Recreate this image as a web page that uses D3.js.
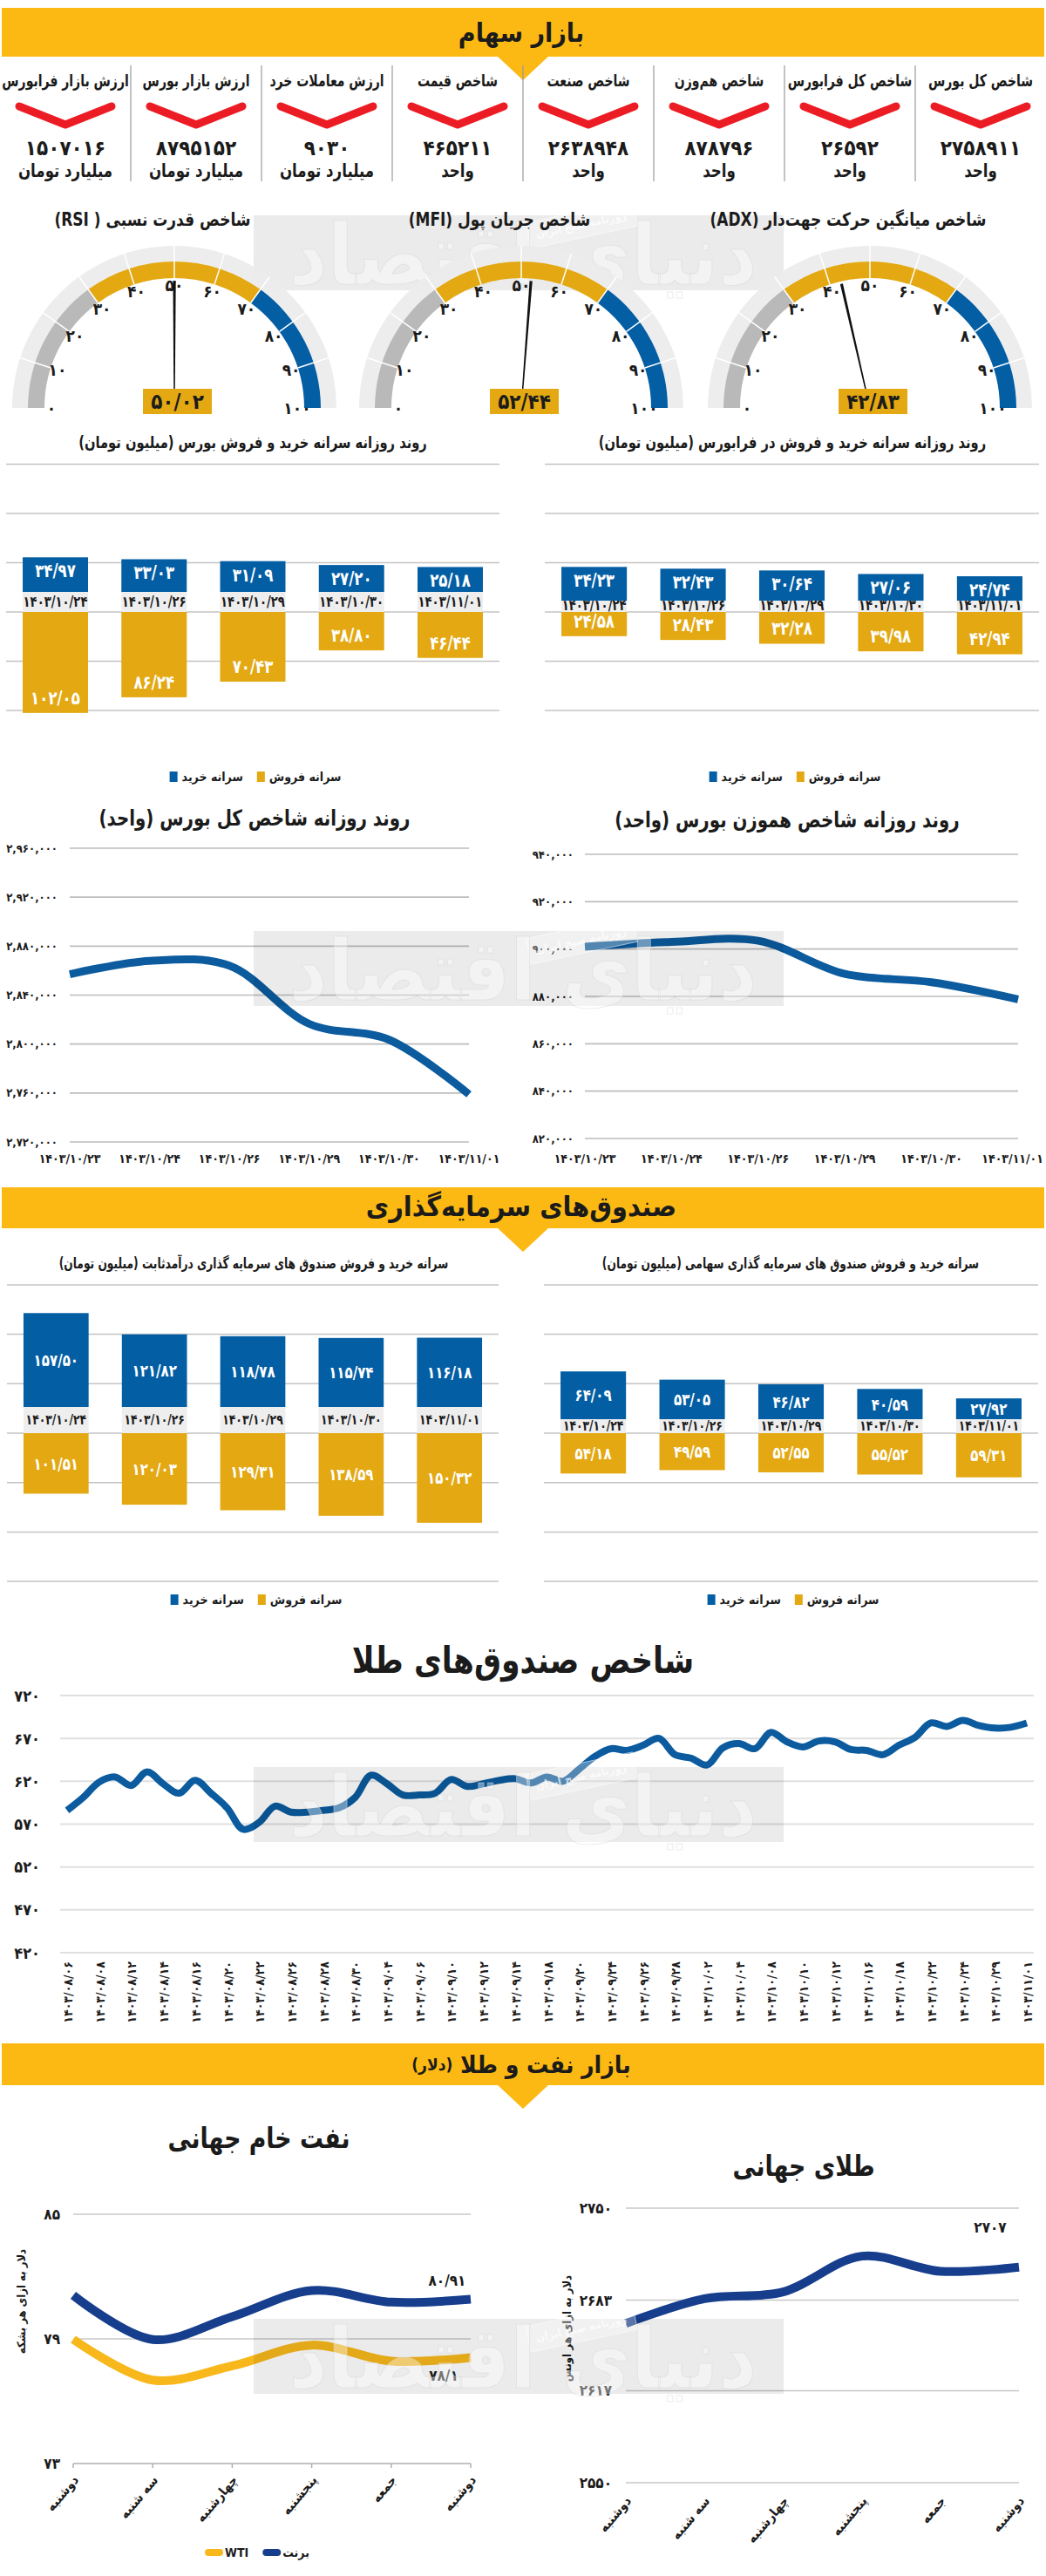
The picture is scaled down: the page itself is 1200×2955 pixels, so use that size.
<!DOCTYPE html>
<html lang="fa">
<head>
<meta charset="utf-8">
<script src="https://cdn.jsdelivr.net/npm/d3@7/dist/d3.min.js"></script>
<style>
html,body{margin:0;padding:0;background:#fff;}
svg{display:block;}
text{font-family:"DejaVu Sans Condensed","DejaVu Sans",sans-serif;}
</style>
</head>
<body>
<svg id="chart" width="1200" height="2955" xmlns="http://www.w3.org/2000/svg"></svg>
<script>
// ================= DATA =================
const indicatorNames = ["شاخص کل بورس","شاخص کل فرابورس","شاخص هم‌وزن","شاخص صنعت","شاخص قیمت","ارزش معاملات خرد","ارزش بازار بورس","ارزش بازار فرابورس"];
const indicatorValues = [2758911, 26592, 878796, 2638948, 465211, 9030, 8795152, 1507016];
const indicatorUnits = ["واحد","واحد","واحد","واحد","واحد","میلیارد تومان","میلیارد تومان","میلیارد تومان"];

const gaugeNames = ["شاخص قدرت نسبی ( RSI)","شاخص جریان پول (MFI)","شاخص میانگین حرکت جهت‌دار (ADX)"];
const gaugeValues = [50.02, 52.44, 42.83];
const gaugeTicks = [0,10,20,30,40,50,60,70,80,90,100];
const gaugeZoneBounds = [0, 30, 70, 100];

const barDates = ["1403/10/24","1403/10/26","1403/10/29","1403/10/30","1403/11/01"];
const bourseBuy  = [34.97, 33.03, 31.09, 27.20, 25.18];
const bourseSell = [102.05, 86.24, 70.43, 38.80, 46.44];
const faraBuy    = [34.23, 32.43, 30.64, 27.06, 24.74];
const faraSell   = [24.58, 28.43, 32.28, 39.98, 42.94];

const lineDates = ["1403/10/23","1403/10/24","1403/10/26","1403/10/29","1403/10/30","1403/11/01"];
const totalIndex = [2857000, 2868000, 2864000, 2816500, 2803500, 2758911];
const totalTicks = [2720000, 2760000, 2800000, 2840000, 2880000, 2920000, 2960000];
const equalIndex = [901000, 903000, 903500, 889500, 886000, 878796];
const equalTicks = [820000, 840000, 860000, 880000, 900000, 920000, 940000];

const fixedBuy   = [157.50, 121.82, 118.78, 115.74, 116.18];
const fixedSell  = [101.51, 120.03, 129.31, 138.59, 150.32];
const equityBuy  = [64.09, 53.05, 46.82, 40.59, 27.92];
const equitySell = [54.18, 49.59, 52.55, 55.52, 59.31];

const goldFundValues = [586,601,619,625,615,631,617,606,621,606,589,564,572,591,584,584,586,589,601,627,617,604,604,606,622,614,617,621,623,618,625,620,634,649,658,656,662,670,651,647,639,659,664,658,677,666,660,667,666,657,656,651,662,671,688,684,691,685,682,683,688];
const goldFundTickLabels = ["1403/08/06","1403/08/08","1403/08/12","1403/08/14","1403/08/16","1403/08/20","1403/08/22","1403/08/26","1403/08/28","1403/08/30","1403/09/04","1403/09/06","1403/09/10","1403/09/12","1403/09/14","1403/09/18","1403/09/20","1403/09/24","1403/09/26","1403/09/28","1403/10/02","1403/10/04","1403/10/08","1403/10/10","1403/10/12","1403/10/16","1403/10/18","1403/10/22","1403/10/24","1403/10/29","1403/11/01"];
const goldFundTicks = [420, 470, 520, 570, 620, 670, 720];

const weekDays = ["دوشنبه","سه شنبه","چهارشنبه","پنجشنبه","جمعه","دوشنبه"];
const brent = [81.10, 78.97, 80.07, 81.33, 80.77, 80.91];
const wti   = [78.98, 77.02, 77.70, 78.70, 77.93, 78.10];
const oilTicks = [73, 79, 85];
const goldOunce = [2666, 2684, 2689, 2715, 2704, 2707];
const goldTicks = [2550, 2617, 2683, 2750];

// ================= HELPERS =================
const C = {yellow:"#FDB913", blue:"#035EA4", gold:"#E3A812", red:"#EC1C24", line:"#0B5B9E",
  navy:"#163E8D", wti:"#F8B81B", grid:"#C4C4C4", band:"#EEEEEE", light:"#EBEBEB", gray:"#B9B9B9", ink:"#1b1b1b"};
const fa = s => String(s).replace(/[0-9]/g, d => "۰۱۲۳۴۵۶۷۸۹"[+d]).replace(/\./g, "/");
const svg = d3.select("#chart");

function T(parent, x, y, s, size, o = {}) {
  const a = o.a || "middle";
  const t = parent.append("text").attr("x", x).attr("y", y)
    .attr("font-size", size).attr("font-weight", o.w || "bold")
    .attr("fill", o.fill || C.ink).attr("text-anchor", a)
    .attr("dominant-baseline", "central")
    .attr("direction", o.dir || (a === "middle" ? "rtl" : "ltr"));
  if (o.rot !== undefined) t.attr("transform", `rotate(${o.rot},${x},${y})`);
  else if (o.sx) t.attr("transform", `translate(${x},0) scale(${o.sx},1) translate(${-x},0)`);
  t.text(s);
  return t;
}
function hline(g, x0, x1, y, color, w) {
  g.append("line").attr("x1", x0).attr("x2", x1).attr("y1", y).attr("y2", y)
    .attr("stroke", color).attr("stroke-width", w);
}
function header(y0, y1) {
  svg.append("rect").attr("x", 2).attr("y", y0).attr("width", 1196).attr("height", y1 - y0).attr("fill", C.yellow);
  svg.append("path").attr("d", `M570,${y1 - 1}L630,${y1 - 1}L600,${y1 + 27}Z`).attr("fill", C.yellow);
}
function legend(cx, y, items) {
  const g = svg.append("g");
  let x = 0;
  items.forEach(it => {
    if (it.line) {
      g.append("line").attr("x1", x + 4).attr("x2", x + 17).attr("y1", y).attr("y2", y)
        .attr("stroke", it.color).attr("stroke-width", 8).attr("stroke-linecap", "round");
      x += 23;
    } else {
      g.append("rect").attr("x", x).attr("y", y - 6).attr("width", 9).attr("height", 12).attr("fill", it.color);
      x += 14;
    }
    const t = T(g, x, y, it.label, 14, {a: "start"});
    x += t.node().getComputedTextLength() + 16;
  });
  g.attr("transform", `translate(${cx - (x - 16) / 2},0)`);
}
function watermark(y) {
  const g = svg.append("g");
  g.append("rect").attr("x", 291).attr("y", y).attr("width", 608).attr("height", 86)
    .attr("fill", "#000").attr("fill-opacity", 0.08);
  g.append("g").attr("transform", `rotate(-12,665,${y + 12})`).call(s => {
    s.append("rect").attr("x", 605).attr("y", y - 4).attr("width", 125).attr("height", 30)
      .attr("fill", "#fff").attr("fill-opacity", 0.3).attr("stroke", "#fff").attr("stroke-opacity", 0.5);
    T(s, 667, y + 11, "روزنامه صبح ایران", 13, {fill: "#fff"}).attr("fill-opacity", 0.7);
  });
  T(g, 600, y + 46, "دنیای اقتصاد", 96, {fill: "#fff"})
    .attr("fill-opacity", 0.4).attr("stroke", "#d4d4d4").attr("stroke-width", 1).attr("stroke-opacity", 0.45);
}

// ================= SECTION 1 : HEADER + INDICATORS =================
header(9, 65);
T(svg, 598, 37, "بازار سهام", 30);

indicatorNames.forEach((name, i) => {
  const cx = 1200 - 150 * (i + 0.5);
  T(svg, cx, 92, name, 19, {sx: 0.82});
  svg.append("path").attr("d", `M${cx - 53},122L${cx},143L${cx + 53},122`)
    .attr("fill", "none").attr("stroke", C.red).attr("stroke-width", 9)
    .attr("stroke-linecap", "round").attr("stroke-linejoin", "round");
  T(svg, cx, 170, fa(indicatorValues[i]), 24, {dir: "ltr"});
  T(svg, cx, 196, indicatorUnits[i], 21, {sx: 0.88});
});
d3.range(1, 8).forEach(k => svg.append("line").attr("x1", 150 * k).attr("x2", 150 * k)
  .attr("y1", 75).attr("y2", 208).attr("stroke", "#9a9a9a").attr("stroke-width", 1.2));

// ================= GAUGES =================
const gaugeCx = [200, 598, 998], gaugeCy = 468;
const ang = d3.scaleLinear().domain([0, 100]).range([-Math.PI / 2, Math.PI / 2]);
const zoneColors = [C.gray, C.gold, C.blue];
watermark(247);
gaugeNames.forEach((name, i) => {
  const cx = gaugeCx[i];
  T(svg, cx - 25, 252, name, 21, {sx: 0.9});
  const g = svg.append("g").attr("transform", `translate(${cx},${gaugeCy})`);
  g.append("path").attr("d", d3.arc()({innerRadius: 168, outerRadius: 186, startAngle: ang(0), endAngle: ang(100)}))
    .attr("fill", C.light).attr("fill-opacity", 0.92);
  d3.pairs(gaugeZoneBounds).forEach((z, j) => g.append("path")
    .attr("d", d3.arc()({innerRadius: 149, outerRadius: 168, startAngle: ang(z[0]), endAngle: ang(z[1])}))
    .attr("fill", zoneColors[j]));
  gaugeTicks.forEach(v => {
    const a = ang(v), s = Math.sin(a), c = Math.cos(a);
    if (v > 0 && v < 100) g.append("line").attr("x1", 149 * s).attr("y1", -149 * c)
      .attr("x2", 186 * s).attr("y2", -186 * c).attr("stroke", "#fff").attr("stroke-width", 1.5);
    T(g, 141 * s, -141 * c, fa(v), 19, {dir: "ltr"});
  });
  const a = ang(gaugeValues[i]), s = Math.sin(a), c = Math.cos(a);
  const px = Math.cos(a), py = Math.sin(a);
  const tip = 146;
  g.append("path").attr("d",
    `M${0.6 * px},${0.6 * py}L${tip * s + 1.6 * px},${-tip * c + 1.6 * py}L${tip * s - 1.6 * px},${-tip * c - 1.6 * py}L${-0.6 * px},${-0.6 * py}Z`)
    .attr("fill", "#111");
  g.append("rect").attr("x", -36).attr("y", -22).attr("width", 79).attr("height", 29).attr("fill", C.gold);
  T(g, 3.5, -7.5, fa(gaugeValues[i].toFixed(2)), 24, {dir: "ltr"});
});

// ================= DIVERGING BAR CHARTS =================
function divBar(o) {
  const g = svg.append("g");
  T(g, o.titleX, o.titleY, o.title, o.titleSize, {sx: o.titleSx});
  o.grid.forEach(y => hline(g, o.x0, o.x1, y, C.grid, 1.5));
  const x = d3.scaleBand().domain(o.dates).range([o.x0, o.x1]).paddingInner(0.338).paddingOuter(0.168);
  const h = d3.scaleLinear().domain([0, 100]).range([0, 100 * o.k]);
  o.dates.forEach((d, i) => {
    const bx = x(d), bw = x.bandwidth(), cx = bx + bw / 2;
    g.append("rect").attr("x", bx).attr("y", o.blueBase).attr("width", bw).attr("height", o.goldTop - o.blueBase).attr("fill", C.band);
    T(g, cx, (o.blueBase + o.goldTop) / 2 + o.dateDy, fa(d), o.dateSize, {dir: "ltr", sx: 0.86});
    const hb = h(o.buy[i]), hs = h(o.sell[i]);
    g.append("rect").attr("x", bx).attr("y", o.blueBase - hb).attr("width", bw).attr("height", hb).attr("fill", C.blue);
    g.append("rect").attr("x", bx).attr("y", o.goldTop).attr("width", bw).attr("height", hs).attr("fill", C.gold);
    const yb = o.center ? o.blueBase - hb / 2 : o.blueBase - hb + 16;
    const ys = o.center ? o.goldTop + hs / 2 : o.goldTop + hs - 17;
    T(g, cx, yb, fa(o.buy[i].toFixed(2)), o.valSize, {fill: "#fff", dir: "ltr", sx: 0.88});
    T(g, cx, ys, fa(o.sell[i].toFixed(2)), o.valSize, {fill: "#fff", dir: "ltr", sx: 0.88});
  });
}
const grid1 = d3.range(-3, 3).map(m => 702 + m * 56.5);
divBar({title: "روند روزانه سرانه خرید و فروش بورس (میلیون تومان)", titleX: 290, titleY: 508, titleSize: 19, titleSx: 0.86,
  x0: 7, x1: 573, grid: grid1, dates: barDates, buy: bourseBuy, sell: bourseSell,
  k: 1.135, blueBase: 679, goldTop: 702, dateDy: 0, dateSize: 17, valSize: 21, center: false});
divBar({title: "روند روزانه سرانه خرید و فروش در فرابورس (میلیون تومان)", titleX: 909, titleY: 508, titleSize: 19, titleSx: 0.86,
  x0: 625, x1: 1192, grid: grid1, dates: barDates, buy: faraBuy, sell: faraSell,
  k: 1.13, blueBase: 689, goldTop: 702, dateDy: -1, dateSize: 17, valSize: 21, center: false});
legend(293, 891, [{label: "سرانه خرید", color: C.blue}, {label: "سرانه فروش", color: C.gold}]);
legend(912, 891, [{label: "سرانه خرید", color: C.blue}, {label: "سرانه فروش", color: C.gold}]);

// ================= INDEX LINE CHARTS =================
function lineChart(o) {
  const g = svg.append("g");
  T(g, o.titleX, o.titleY, o.title, 25, {sx: 0.88});
  const x = d3.scalePoint().domain(o.dates).range([o.x0, o.x1]);
  const y = d3.scaleLinear().domain(d3.extent(o.ticks)).range([o.yBot, o.yTop]);
  o.ticks.forEach(t => {
    hline(g, o.x0, o.x1, y(t), "#BDBDBD", 1.6);
    T(g, o.labelX, y(t), fa(d3.format(",")(t)), 13, {a: "end"});
  });
  o.dates.forEach(d => {
    const t = T(g, x(d), o.xLabelY, fa(d), 14, {dir: "ltr"});
    const w = t.node().getComputedTextLength();
    if (x(d) + w / 2 > 1197) t.attr("x", 1197 - w / 2);
  });
  g.append("path").datum(o.values)
    .attr("d", d3.line().x((d, i) => x(o.dates[i])).y(d => y(d)).curve(d3.curveCatmullRom))
    .attr("fill", "none").attr("stroke", C.line).attr("stroke-width", 9);
}
lineChart({title: "روند روزانه شاخص کل بورس (واحد)", titleX: 292, titleY: 939,
  x0: 80, x1: 538, yTop: 973, yBot: 1310, ticks: totalTicks, labelX: 66, xLabelY: 1329,
  dates: lineDates, values: totalIndex});
lineChart({title: "روند روزانه شاخص هموزن بورس (واحد)", titleX: 903, titleY: 941,
  x0: 671, x1: 1168, yTop: 980, yBot: 1306, ticks: equalTicks, labelX: 658, xLabelY: 1329,
  dates: lineDates, values: equalIndex});
watermark(1068);

// ================= FUNDS SECTION =================
header(1362, 1409);
T(svg, 598, 1384, "صندوق‌های سرمایه‌گذاری", 32);
const grid2 = d3.range(-3, 4).map(m => 1644 + m * 56.7);
divBar({title: "سرانه خرید و فروش صندوق های سرمایه گذاری درآمدثابت (میلیون تومان)", titleX: 291, titleY: 1449, titleSize: 17, titleSx: 0.8,
  x0: 8, x1: 572, grid: grid2, dates: barDates, buy: fixedBuy, sell: fixedSell,
  k: 0.684, blueBase: 1614, goldTop: 1644, dateDy: 0, dateSize: 16, valSize: 19, center: true});
divBar({title: "سرانه خرید و فروش صندوق های سرمایه گذاری سهامی (میلیون تومان)", titleX: 907, titleY: 1449, titleSize: 17, titleSx: 0.8,
  x0: 624, x1: 1191, grid: grid2, dates: barDates, buy: equityBuy, sell: equitySell,
  k: 0.855, blueBase: 1628, goldTop: 1644, dateDy: 0, dateSize: 16, valSize: 19, center: true});
legend(294, 1835, [{label: "سرانه خرید", color: C.blue}, {label: "سرانه فروش", color: C.gold}]);
legend(910, 1835, [{label: "سرانه خرید", color: C.blue}, {label: "سرانه فروش", color: C.gold}]);

// ================= GOLD FUNDS INDEX =================
(function () {
  const g = svg.append("g");
  T(g, 600, 1905, "شاخص صندوق‌های طلا", 42, {sx: 0.92});
  const x = d3.scaleLinear().domain([0, goldFundValues.length - 1]).range([77, 1178]);
  const y = d3.scaleLinear().domain(d3.extent(goldFundTicks)).range([2240, 1945]);
  goldFundTicks.forEach(t => {
    hline(g, 69, 1186, y(t), "#E0E0E0", 2);
    T(g, 46, y(t), fa(t), 18, {a: "end"});
  });
  goldFundTickLabels.forEach((lab, k) => T(g, x(k * 2) + 1, 2250, fa(lab), 14, {a: "end", rot: -90}));
  g.append("path").datum(goldFundValues)
    .attr("d", d3.line().x((d, i) => x(i)).y(d => y(d)).curve(d3.curveCatmullRom))
    .attr("fill", "none").attr("stroke", C.line).attr("stroke-width", 8).attr("stroke-linejoin", "round");
})();
watermark(2027);

// ================= OIL & GOLD =================
header(2344, 2392);
(function () {
  const t = svg.append("text").attr("x", 598).attr("y", 2368).attr("text-anchor", "middle")
    .attr("dominant-baseline", "central").attr("direction", "rtl").attr("font-weight", "bold").attr("fill", C.ink);
  t.append("tspan").attr("font-size", 28).text("بازار نفت و طلا ");
  t.append("tspan").attr("font-size", 19).text("(دلار)");
})();

function smallLine(o) {
  const g = svg.append("g");
  T(g, o.titleX, o.titleY, o.title, 33, {sx: 0.9});
  const x = d3.scalePoint().domain(d3.range(weekDays.length)).range([o.x0, o.x1]);
  const y = d3.scaleLinear().domain(d3.extent(o.ticks)).range([o.yBot, o.yTop]);
  o.ticks.forEach((t, i) => {
    const isAxis = o.axisBottom && i === 0;
    hline(g, o.x0, o.x1, y(t), isAxis ? "#AFAFAF" : "#C8C8C8", 1.5);
    T(g, o.labelX, y(t), fa(t), 17, {a: "end"});
  });
  if (o.axisBottom) weekDays.forEach((d, i) => g.append("line").attr("x1", x(i)).attr("x2", x(i))
    .attr("y1", o.yBot).attr("y2", o.yBot + 5).attr("stroke", "#AFAFAF").attr("stroke-width", 1.5));
  weekDays.forEach((d, i) => T(g, x(i) + 3, o.xLabelY, d, 15, {a: "end", rot: -50}));
  T(g, o.axisTitleX, o.axisTitleY, o.axisTitle, 13, {rot: -90});
  o.series.forEach(s => {
    g.append("path").datum(s.values)
      .attr("d", d3.line().x((d, i) => x(i)).y(d => y(d)).curve(d3.curveCatmullRom))
      .attr("fill", "none").attr("stroke", s.color).attr("stroke-width", 10);
    const last = s.values.length - 1;
    T(g, x(last) + s.dx, y(s.values[last]) + s.dy, fa(s.label), 17, {dir: "ltr"});
  });
}
smallLine({title: "نفت خام جهانی", titleX: 297, titleY: 2452, x0: 84, x1: 540, yTop: 2540, yBot: 2826,
  ticks: oilTicks, labelX: 69, xLabelY: 2842, axisBottom: true,
  axisTitle: "دلار به ازای هر بشکه", axisTitleX: 24, axisTitleY: 2640,
  series: [{values: wti, color: C.wti, label: wti[5].toString(), dx: -31, dy: 21},
           {values: brent, color: C.navy, label: brent[5].toFixed(2), dx: -27, dy: -21}]});
smallLine({title: "طلای جهانی", titleX: 922, titleY: 2484, x0: 718, x1: 1169, yTop: 2533, yBot: 2848,
  ticks: goldTicks, labelX: 702, xLabelY: 2866, axisBottom: false,
  axisTitle: "دلار به ازای هر اونس", axisTitleX: 650, axisTitleY: 2671,
  series: [{values: goldOunce, color: C.navy, label: String(goldOunce[5]), dx: -33, dy: -46}]});
legend(295, 2928, [{label: "WTI", color: C.wti, line: true}, {label: "برنت", color: C.navy, line: true}]);
watermark(2660);
</script>
</body>
</html>
